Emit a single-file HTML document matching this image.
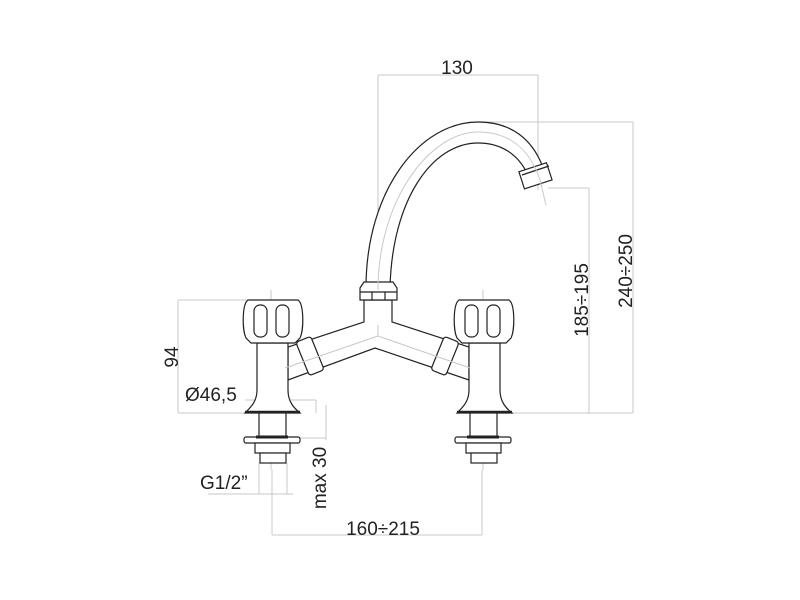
<!DOCTYPE html>
<html><head><meta charset="utf-8"><style>
html,body{margin:0;padding:0;background:#fff;}
svg{display:block;}
text{font-family:"Liberation Sans",sans-serif;fill:#222;}
</style></head><body>
<svg width="800" height="600" viewBox="0 0 800 600" xmlns="http://www.w3.org/2000/svg">
<g stroke="#c8c8c8" stroke-width="1" fill="none">
<line x1="378" y1="75" x2="378" y2="285"/>
<line x1="538" y1="75" x2="538" y2="190"/>
<line x1="378" y1="75" x2="538" y2="75"/>
<line x1="478" y1="122" x2="633" y2="122"/>
<line x1="548" y1="188" x2="589" y2="188"/>
<line x1="500" y1="413" x2="633" y2="413"/>
<line x1="589" y1="188" x2="589" y2="413"/>
<line x1="633" y1="122" x2="633" y2="413"/>
<line x1="178" y1="300" x2="255" y2="300"/>
<line x1="178" y1="413" x2="300" y2="413"/>
<line x1="178" y1="300" x2="178" y2="413"/>
<line x1="245" y1="400" x2="316" y2="400"/>
<line x1="316" y1="400" x2="316" y2="413"/>
<line x1="300" y1="438" x2="326" y2="438"/>
<line x1="326" y1="405" x2="326" y2="440"/>
<line x1="208" y1="494" x2="293" y2="494"/>
<line x1="259" y1="463" x2="259" y2="494"/>
<line x1="287" y1="463" x2="287" y2="494"/>
<line x1="272" y1="470" x2="272" y2="535"/>
<line x1="482" y1="470" x2="482" y2="535"/>
<line x1="272" y1="535" x2="482" y2="535"/>
<line x1="271" y1="290" x2="271" y2="470"/>
<line x1="483" y1="290" x2="483" y2="470"/>
</g>
<g stroke="#222" stroke-width="1.2" fill="#fff">
<path d="M366 288 C366 190 420 122 478 122 C512 122 532 140 542 165 L527 173 C518 155 502 143 478 143 C432 143 392 200 390 288 Z"/>
<rect x="521" y="167" width="29" height="18" transform="rotate(-18 535 176)"/>
<line x1="522" y1="175" x2="549" y2="166" />
<path d="M364 300 L364 322 L288 347 L288 380 L375 348 L469 380 L469 347 L392 322 L392 300 Z"/>
<path d="M288 350 C278 355 278 372 288 380" fill="none" stroke="#999" stroke-width="0.8"/>
<path d="M469 350 C479 355 479 372 469 380" fill="none" stroke="#999" stroke-width="0.8"/>
<path d="M360 288 L364 282 L393 282 L397 288 L397 300 L360 300 Z"/>
<line x1="360" y1="292" x2="397" y2="292"/>
<line x1="372" y1="292" x2="372" y2="300"/><line x1="385" y1="292" x2="385" y2="300"/>
<rect x="302" y="338" width="16" height="36" rx="3" transform="rotate(-22 310 356)"/>
<rect x="437" y="338" width="16" height="36" rx="3" transform="rotate(22 445 356)"/>
<path d="M257 343 L257 390 C257 402 250 408 245 413 L300 413 C294 408 288 402 288 390 L288 343 Z"/>
<line x1="245" y1="412" x2="300" y2="412" stroke-width="2.5"/>
<path d="M248 300 L298 300 C304 304 304 330 300 338 L295 343 L251 343 L246 338 C242 330 242 304 248 300 Z"/>
<rect x="254" y="305" width="13" height="32" rx="6"/>
<rect x="276" y="305" width="13" height="32" rx="6"/>
<rect x="259" y="413" width="27" height="24"/>
<rect x="244" y="437" width="56" height="6" rx="2"/>
<line x1="256" y1="437" x2="288" y2="437" stroke-width="3"/>
<rect x="255" y="443" width="35" height="10"/>
<rect x="260" y="453" width="26" height="10"/>
<path d="M469 343 L469 390 C469 402 462 408 457 413 L512 413 C506 408 500 402 500 390 L500 343 Z"/>
<line x1="457" y1="412" x2="512" y2="412" stroke-width="2.5"/>
<path d="M459 300 L509 300 C515 304 515 330 511 338 L506 343 L462 343 L457 338 C453 330 453 304 459 300 Z"/>
<rect x="465" y="305" width="13" height="32" rx="6"/>
<rect x="487" y="305" width="13" height="32" rx="6"/>
<rect x="470" y="413" width="27" height="24"/>
<rect x="455" y="437" width="56" height="6" rx="2"/>
<line x1="467" y1="437" x2="499" y2="437" stroke-width="3"/>
<rect x="466" y="443" width="35" height="10"/>
<rect x="471" y="453" width="26" height="10"/>
</g>
<g stroke="#c8c8c8" stroke-width="1" fill="none">
<path d="M378 290 C378 200 430 132 478 132 C510 132 530 150 540 180 L546 205"/>
<path d="M378 325 L378 336 L285 368 M378 336 L470 368"/>
</g>
<text x="457" y="74" font-size="19" text-anchor="middle">130</text>
<text transform="translate(588 300) rotate(-90)" font-size="19" text-anchor="middle">185÷195</text>
<text transform="translate(632 271) rotate(-90)" font-size="19" text-anchor="middle">240÷250</text>
<text transform="translate(178 357) rotate(-90)" font-size="19" text-anchor="middle">94</text>
<text x="185" y="401" font-size="19">Ø46,5</text>
<text x="200" y="489" font-size="19">G1/2”</text>
<text transform="translate(326 478) rotate(-90)" font-size="19" text-anchor="middle">max 30</text>
<text x="383" y="535" font-size="19" text-anchor="middle">160÷215</text>
</svg>
</body></html>
